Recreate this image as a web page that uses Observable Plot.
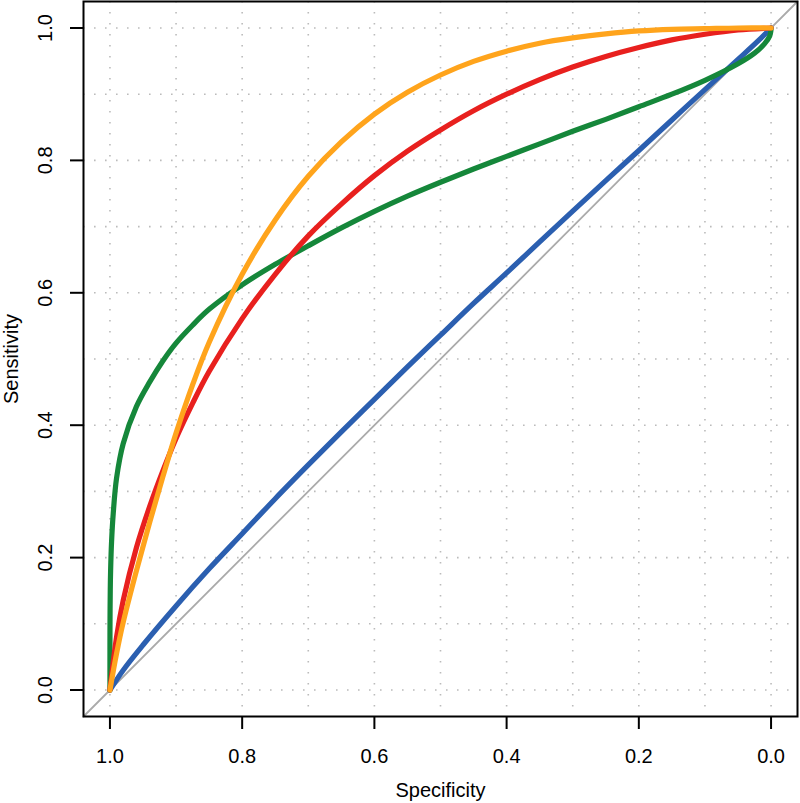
<!DOCTYPE html>
<html>
<head>
<meta charset="utf-8">
<script src="https://cdn.jsdelivr.net/npm/d3@7"></script>
<script src="https://cdn.jsdelivr.net/npm/@observablehq/plot@0.6"></script>
<style>
  html, body { margin: 0; padding: 0; background: #fff; }
  #chart { width: 800px; height: 803px; }
</style>
</head>
<body>
<div id="chart"></div>
<script>
// Tick values
const tickValues = [0, 0.2, 0.4, 0.6, 0.8, 1.0];
const gridValues = [0, 0.1, 0.2, 0.3, 0.4, 0.5, 0.6, 0.7, 0.8, 0.9, 1.0];

// Series: specificity (x) and sensitivity (y)
const blueSpec = [1, 0.98, 0.95, 0.9, 0.85, 0.8, 0.75, 0.7, 0.65, 0.6, 0.55, 0.5, 0.45, 0.4, 0.35, 0.3, 0.25, 0.2, 0.15, 0.1, 0.05, 0.02, 0];
const blueSens = [0, 0.030, 0.068, 0.127, 0.183, 0.236, 0.289, 0.340, 0.390, 0.439, 0.488, 0.536, 0.584, 0.630, 0.677, 0.7235, 0.7695, 0.815, 0.861, 0.907, 0.9525, 0.980, 1];

const greenSpec = [1, 0.99999, 0.9999, 0.9995, 0.999, 0.9975, 0.995, 0.99, 0.98, 0.96, 0.94, 0.92, 0.90, 0.875, 0.85, 0.80, 0.75, 0.70, 0.65, 0.60, 0.55, 0.50, 0.45, 0.40, 0.35, 0.30, 0.25, 0.20, 0.15, 0.10, 0.05, 0.025, 0.01, 0.002, 0.0001, 0];
const greenSens = [0, 0.061, 0.104, 0.152, 0.180, 0.225, 0.267, 0.320, 0.372, 0.428, 0.465, 0.497, 0.524, 0.551, 0.575, 0.612, 0.643, 0.671, 0.698, 0.723, 0.746, 0.767, 0.787, 0.806, 0.825, 0.844, 0.862, 0.881, 0.900, 0.921, 0.946, 0.962, 0.976, 0.988, 0.997, 1];

const redSpec = [1, 0.99, 0.98, 0.96, 0.94, 0.92, 0.90, 0.875, 0.85, 0.80, 0.75, 0.70, 0.65, 0.60, 0.55, 0.50, 0.45, 0.40, 0.35, 0.30, 0.25, 0.20, 0.15, 0.10, 0.05, 0];
const redSens = [0, 0.080, 0.135, 0.215, 0.277, 0.331, 0.380, 0.433, 0.481, 0.561, 0.628, 0.686, 0.734, 0.777, 0.814, 0.846, 0.875, 0.900, 0.922, 0.941, 0.957, 0.9705, 0.982, 0.9905, 0.997, 1];

const orangeSpec = [1, 0.99, 0.98, 0.96, 0.94, 0.92, 0.90, 0.875, 0.85, 0.80, 0.75, 0.70, 0.65, 0.60, 0.55, 0.50, 0.45, 0.40, 0.35, 0.30, 0.25, 0.20, 0.15, 0.10, 0.05, 0];
const orangeSens = [0, 0.055, 0.102, 0.180, 0.253, 0.322, 0.388, 0.461, 0.525, 0.628, 0.710, 0.776, 0.828, 0.870, 0.903, 0.929, 0.9495, 0.965, 0.977, 0.985, 0.991, 0.9955, 0.998, 0.999, 1.0, 1.0];

const seriesColors = ["#2b5fb0", "#15873a", "#e8201e", "#ffa41c"];

// Diagonal reference (spec = 1 - sens), spanning the plotting region
const diagSpec = [1.04, -0.04];
const diagSens = [-0.04, 1.04];

const toRows = (spec, sens) => spec.map((s, i) => ({spec: s, sens: sens[i]}));
const series = [
  toRows(blueSpec, blueSens),
  toRows(greenSpec, greenSens),
  toRows(redSpec, redSens),
  toRows(orangeSpec, orangeSens)
];
const diag = toRows(diagSpec, diagSens);

const font = "'Liberation Sans', Arial, Helvetica, sans-serif";

const chart = Plot.plot({
  width: 800,
  height: 803,
  marginLeft: 83,
  marginRight: 3,
  marginTop: 1,
  marginBottom: 87,
  style: {fontFamily: font, fontSize: "20px", background: "white", color: "black"},
  x: {domain: [1.04, -0.04]},
  y: {domain: [-0.04, 1.04]},
  marks: [
    Plot.gridX(gridValues, {stroke: "#bbbbbb", strokeOpacity: 1, strokeWidth: 1.6, strokeDasharray: "1.6,9.4"}),
    Plot.gridY(gridValues, {stroke: "#bbbbbb", strokeOpacity: 1, strokeWidth: 1.6, strokeDasharray: "1.6,9.4"}),
    Plot.line(diag, {x: "spec", y: "sens", stroke: "#aaaaaa", strokeWidth: 1.8}),
    ...series.map((rows, i) => Plot.line(rows, {
      x: "spec", y: "sens", stroke: seriesColors[i], strokeWidth: 5.2, curve: "catmull-rom"
    })),
    Plot.frame({stroke: "black", strokeWidth: 2}),
    Plot.axisX(tickValues, {
      tickSize: 13, tickPadding: 19, strokeWidth: 2, fontSize: 20,
      tickFormat: d3.format(".1f"),
      label: "Specificity", labelAnchor: "center", labelOffset: 80, labelArrow: "none"
    }),
    Plot.axisY(tickValues, {
      tickSize: 13, tickPadding: 19, strokeWidth: 2, fontSize: 20, tickRotate: -90,
      tickFormat: d3.format(".1f"),
      label: "Sensitivity", labelAnchor: "center", labelOffset: 80, labelArrow: "none"
    })
  ]
});
document.getElementById("chart").appendChild(chart);
</script>
</body>
</html>
